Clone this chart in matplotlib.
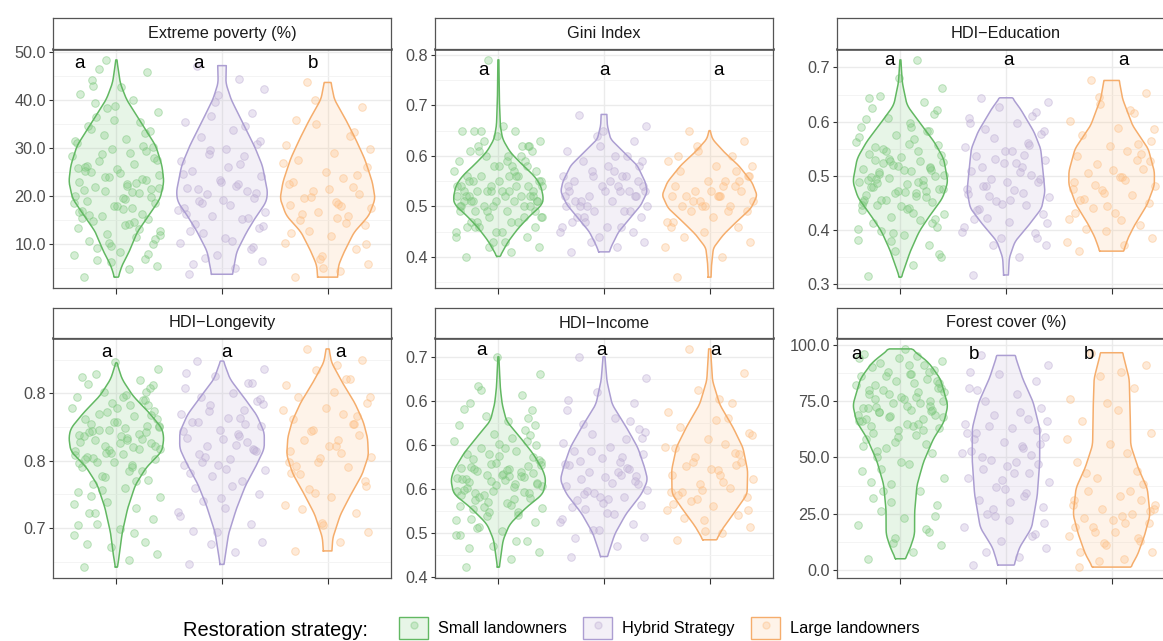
import numpy as np
import matplotlib
matplotlib.use("Agg")
import matplotlib.pyplot as plt
from matplotlib.patches import Patch
from matplotlib.lines import Line2D
from matplotlib.legend_handler import HandlerTuple
from matplotlib.colors import to_rgba

plt.rcParams['font.family'] = ['Liberation Sans', 'DejaVu Sans']

# === GROUPS & COLOURS ===
groups = ["Small landowners", "Hybrid Strategy", "Large landowners"]
fill_colors = ["#7FC97F", "#BEAED4", "#FDC086"]
line_colors = ["#62B862", "#AC9ED2", "#F5AD6C"]

# shared horizontal jitter pattern (fraction of a category slot)
jitter = [-0.31, 0.12, 0.38, -0.05, 0.27, -0.40, 0.03, -0.18, 0.35, -0.26,
          0.19, -0.09, 0.41, -0.36, 0.08, -0.22, 0.30, -0.14, 0.24, -0.33,
          0.15, -0.02, 0.37, -0.28, 0.06, -0.39, 0.21, -0.11, 0.33, -0.20,
          0.10, -0.35, 0.28, -0.07, 0.40, -0.24, 0.01, -0.30, 0.17, -0.16,
          0.36, -0.42, 0.13, -0.04, 0.25, -0.37, 0.09, -0.12, 0.32, -0.27,
          0.22, -0.19, 0.39, -0.01, 0.16, -0.34, 0.04, -0.23, 0.29, -0.10]

# === EXTREME POVERTY (%) ===
pov_small = [3.2, 4.8, 5.5, 6.3, 7.0, 7.8, 8.5, 9.2, 10.0, 10.8, 11.5, 12.2, 12.9, 13.5, 14.1,
             14.8, 15.3, 15.9, 16.4, 17.0, 17.5, 18.0, 18.6, 19.1, 19.6, 20.1, 20.6, 21.1, 21.6,
             22.0, 22.5, 23.0, 23.5, 24.0, 24.5, 25.0, 25.6, 26.1, 26.7, 27.3, 27.9, 28.5, 29.1,
             29.8, 30.5, 31.2, 32.0, 32.8, 33.7, 34.6, 35.5, 36.5, 37.6, 38.8, 40.0, 41.3, 42.8,
             44.2, 45.9, 48.4,
             21.3, 14.2, 27.5, 9.6, 33.1, 18.7, 24.8, 6.8, 30.2, 16.1, 22.7, 38.4, 12.0, 25.9,
             19.4, 43.0, 8.1, 28.8, 23.6, 15.6, 20.9, 35.9, 11.1, 26.4, 17.3, 31.6, 13.2, 24.1,
             19.9, 39.5, 22.2, 16.8, 29.4, 10.4, 21.8, 34.1, 18.1, 25.3, 14.7, 46.5]
pov_hybrid = [3.8, 5.2, 6.5, 7.8, 9.0, 10.2, 11.3, 12.4, 13.4, 14.3, 15.2, 16.0, 16.8, 17.6, 18.3,
              19.0, 19.7, 20.4, 21.1, 21.8, 22.6, 23.4, 24.3, 25.2, 26.2, 27.3, 28.4, 29.6, 30.9,
              32.3, 33.8, 35.5, 37.4, 39.6, 42.3, 47.2,
              19.3, 12.8, 26.7, 7.2, 31.5, 17.1, 22.1, 41.0, 15.6, 24.7, 10.8, 28.9, 20.8, 5.9,
              34.6, 18.6, 13.9, 23.0, 44.5, 16.4, 29.9, 21.5, 9.5, 36.8]
pov_large = [3.2, 4.5, 6.0, 7.5, 9.0, 10.4, 11.7, 12.9, 14.0, 15.0, 15.9, 16.7, 17.5, 18.2, 18.9,
             19.6, 20.4, 21.2, 22.0, 22.9, 23.9, 25.0, 26.2, 27.5, 29.0, 30.7, 32.6, 35.0, 38.5, 43.7,
             18.5, 12.3, 24.5, 7.0, 29.8, 16.3, 21.6, 35.8, 14.5, 19.9, 10.0, 26.9, 17.9, 5.2,
             33.3, 22.5, 15.4, 40.1]
# violin outlines: (value, relative half width)
pov_small_shape = [(3.2, 0.04), (5.7, 0.12), (8.5, 0.27), (12.6, 0.44), (16.0, 0.68), (19.5, 0.92),
                   (23.0, 1.0), (26.4, 0.96), (30.5, 0.83), (34.6, 0.57), (40.2, 0.21), (43.6, 0.08),
                   (48.4, 0.01)]
pov_hybrid_shape = [(3.8, 0.22), (8.5, 0.31), (12.6, 0.52), (16.0, 0.73), (18.8, 0.93), (20.9, 0.96),
                    (26.4, 0.85), (30.5, 0.68), (34.6, 0.47), (40.2, 0.19), (43.6, 0.08), (47.2, 0.09)]
pov_large_shape = [(3.2, 0.21), (5.7, 0.23), (8.5, 0.35), (12.6, 0.56), (16.0, 0.87), (19.5, 1.0),
                   (23.0, 0.94), (27.8, 0.78), (31.9, 0.59), (36.0, 0.38), (40.2, 0.14), (43.7, 0.07)]
pov_ticks = [10, 20, 30, 40, 50]
pov_ticklabels = ["10.0", "20.0", "30.0", "40.0", "50.0"]
pov_minor = [5, 15, 25, 35, 45]
pov_letters = ["a", "a", "b"]
pov_letter_x = [0.65, 1.78, 2.86]
pov_letter_y = 47.7

# === GINI INDEX ===
gini_small = [0.40, 0.41, 0.42, 0.43, 0.44, 0.45, 0.45, 0.46, 0.46, 0.47, 0.47, 0.48, 0.48, 0.49,
              0.49, 0.49, 0.50, 0.50, 0.50, 0.51, 0.51, 0.51, 0.51, 0.52, 0.52, 0.52, 0.52, 0.53,
              0.53, 0.53, 0.53, 0.54, 0.54, 0.54, 0.55, 0.55, 0.55, 0.56, 0.56, 0.56, 0.57, 0.57,
              0.58, 0.58, 0.59, 0.59, 0.60, 0.60, 0.61, 0.61, 0.62, 0.62, 0.63, 0.64, 0.65, 0.65,
              0.66, 0.65, 0.62, 0.79,
              0.52, 0.47, 0.55, 0.50, 0.58, 0.44, 0.53, 0.61, 0.49, 0.51, 0.56, 0.42, 0.54, 0.50,
              0.59, 0.46, 0.52, 0.63, 0.48, 0.53, 0.57, 0.45, 0.51, 0.55, 0.43, 0.54, 0.60, 0.49,
              0.52, 0.47, 0.56, 0.50, 0.62, 0.53, 0.48, 0.51, 0.58, 0.46, 0.54, 0.65]
gini_hybrid = [0.41, 0.42, 0.43, 0.44, 0.45, 0.46, 0.46, 0.47, 0.48, 0.48, 0.49, 0.49, 0.50, 0.50,
               0.51, 0.51, 0.52, 0.52, 0.53, 0.53, 0.53, 0.54, 0.54, 0.55, 0.55, 0.56, 0.56, 0.57,
               0.58, 0.59, 0.60, 0.61, 0.63, 0.64, 0.66, 0.68,
               0.53, 0.47, 0.56, 0.50, 0.59, 0.45, 0.54, 0.62, 0.49, 0.52, 0.57, 0.43, 0.55, 0.51,
               0.60, 0.48, 0.53, 0.65, 0.46, 0.54, 0.58, 0.50, 0.52, 0.56]
gini_large = [0.36, 0.40, 0.43, 0.45, 0.46, 0.47, 0.48, 0.49, 0.49, 0.50, 0.50, 0.51, 0.51, 0.52,
              0.52, 0.52, 0.53, 0.53, 0.54, 0.54, 0.55, 0.55, 0.56, 0.57, 0.58, 0.59, 0.60, 0.61,
              0.63, 0.65,
              0.52, 0.47, 0.55, 0.50, 0.58, 0.44, 0.53, 0.60, 0.49, 0.51, 0.56, 0.42, 0.54, 0.50,
              0.57, 0.46, 0.52, 0.62]
gini_small_shape = [(0.401, 0.03), (0.431, 0.21), (0.457, 0.42), (0.483, 0.68), (0.503, 0.92),
                    (0.516, 0.95), (0.542, 0.89), (0.561, 0.75), (0.581, 0.52), (0.607, 0.25),
                    (0.633, 0.09), (0.66, 0.04), (0.712, 0.02), (0.790, 0.01)]
gini_hybrid_shape = [(0.41, 0.11), (0.424, 0.17), (0.45, 0.31), (0.476, 0.54), (0.503, 0.78),
                     (0.529, 0.91), (0.548, 0.87), (0.581, 0.70), (0.607, 0.42), (0.633, 0.14),
                     (0.66, 0.07), (0.682, 0.06)]
gini_large_shape = [(0.36, 0.03), (0.385, 0.04), (0.418, 0.08), (0.444, 0.29), (0.47, 0.57),
                    (0.496, 0.87), (0.522, 1.0), (0.548, 0.89), (0.581, 0.61), (0.607, 0.31),
                    (0.633, 0.06), (0.65, 0.01)]
gini_ticks = [0.4, 0.5, 0.6, 0.7, 0.8]
gini_ticklabels = ["0.4", "0.5", "0.6", "0.7", "0.8"]
gini_minor = [0.35, 0.45, 0.55, 0.65, 0.75]
gini_letters = ["a", "a", "a"]
gini_letter_x = [0.86, 2.0, 3.08]
gini_letter_y = 0.769

# === HDI-EDUCATION ===
edu_small = [0.315, 0.335, 0.350, 0.362, 0.372, 0.382, 0.390, 0.398, 0.405, 0.412, 0.418, 0.424,
             0.430, 0.436, 0.441, 0.446, 0.451, 0.456, 0.460, 0.464, 0.468, 0.472, 0.476, 0.480,
             0.484, 0.488, 0.492, 0.496, 0.500, 0.504, 0.508, 0.512, 0.516, 0.520, 0.525, 0.530,
             0.535, 0.540, 0.545, 0.550, 0.556, 0.562, 0.568, 0.575, 0.582, 0.590, 0.598, 0.606,
             0.615, 0.625, 0.636, 0.648, 0.662, 0.680, 0.714, 0.455, 0.470, 0.495, 0.510, 0.528,
             0.492, 0.431, 0.538, 0.468, 0.583, 0.402, 0.511, 0.456, 0.621, 0.479, 0.527, 0.379,
             0.501, 0.447, 0.559, 0.487, 0.413, 0.545, 0.472, 0.604, 0.462, 0.519, 0.356, 0.497,
             0.438, 0.571, 0.483, 0.531, 0.421, 0.507, 0.591, 0.452, 0.514, 0.394, 0.476, 0.553,
             0.444, 0.643, 0.489, 0.523]
edu_hybrid = [0.317, 0.350, 0.372, 0.385, 0.395, 0.405, 0.414, 0.422, 0.430, 0.438, 0.446, 0.453,
              0.460, 0.467, 0.474, 0.481, 0.488, 0.495, 0.502, 0.509, 0.516, 0.523, 0.530, 0.537,
              0.545, 0.553, 0.561, 0.569, 0.578, 0.587, 0.597, 0.607, 0.617, 0.627, 0.636, 0.644,
              0.489, 0.421, 0.538, 0.463, 0.582, 0.397, 0.507, 0.448, 0.611, 0.476, 0.524, 0.372,
              0.495, 0.436, 0.557, 0.482, 0.412, 0.545, 0.468, 0.598, 0.455, 0.516, 0.386, 0.531]
edu_large = [0.361, 0.372, 0.385, 0.398, 0.410, 0.421, 0.431, 0.440, 0.449, 0.457, 0.465, 0.473,
             0.481, 0.489, 0.497, 0.505, 0.513, 0.521, 0.529, 0.537, 0.546, 0.555, 0.565, 0.576,
             0.588, 0.601, 0.616, 0.633, 0.652, 0.676,
             0.498, 0.432, 0.541, 0.469, 0.587, 0.401, 0.511, 0.455, 0.621, 0.483, 0.527, 0.378,
             0.493, 0.444, 0.559, 0.476, 0.418, 0.645]
edu_small_shape = [(0.313, 0.02), (0.361, 0.21), (0.398, 0.40), (0.428, 0.63), (0.459, 0.89),
                   (0.489, 1.0), (0.532, 0.91), (0.563, 0.71), (0.593, 0.45), (0.63, 0.14),
                   (0.672, 0.04), (0.714, 0.01)]
edu_hybrid_shape = [(0.317, 0.05), (0.349, 0.07), (0.379, 0.19), (0.41, 0.49), (0.44, 0.75),
                    (0.471, 0.82), (0.508, 0.78), (0.55, 0.73), (0.581, 0.59), (0.624, 0.30),
                    (0.644, 0.13)]
edu_large_shape = [(0.361, 0.25), (0.386, 0.35), (0.41, 0.49), (0.447, 0.75), (0.483, 0.90),
                   (0.508, 0.90), (0.55, 0.77), (0.593, 0.44), (0.642, 0.23), (0.676, 0.16)]
edu_ticks = [0.3, 0.4, 0.5, 0.6, 0.7]
edu_ticklabels = ["0.3", "0.4", "0.5", "0.6", "0.7"]
edu_minor = [0.35, 0.45, 0.55, 0.65]
edu_letters = ["a", "a", "a"]
edu_letter_x = [0.9, 2.02, 3.11]
edu_letter_y = 0.712

# === HDI-LONGEVITY ===
lon_small = [0.671, 0.676, 0.681, 0.686, 0.690, 0.695, 0.699, 0.703, 0.707, 0.711, 0.715, 0.719,
             0.723, 0.727, 0.730, 0.733, 0.736, 0.739, 0.742, 0.745, 0.747, 0.749, 0.751, 0.753,
             0.755, 0.757, 0.759, 0.761, 0.763, 0.765, 0.767, 0.769, 0.771, 0.773, 0.775, 0.777,
             0.779, 0.781, 0.783, 0.785, 0.787, 0.789, 0.791, 0.793, 0.795, 0.797, 0.799, 0.801,
             0.804, 0.807, 0.810, 0.814, 0.818, 0.823, 0.760, 0.764, 0.768, 0.772, 0.776, 0.756,
             0.768, 0.742, 0.781, 0.756, 0.795, 0.718, 0.763, 0.749, 0.806, 0.771, 0.735, 0.786,
             0.759, 0.702, 0.774, 0.752, 0.791, 0.728, 0.766, 0.812, 0.745, 0.779, 0.761, 0.688,
             0.797, 0.754, 0.770, 0.738, 0.784, 0.711, 0.765, 0.748, 0.801, 0.758, 0.776, 0.724,
             0.789, 0.751, 0.696, 0.773]
lon_hybrid = [0.673, 0.682, 0.690, 0.697, 0.703, 0.709, 0.715, 0.720, 0.725, 0.730, 0.735, 0.739,
              0.743, 0.747, 0.751, 0.755, 0.758, 0.761, 0.764, 0.767, 0.770, 0.773, 0.776, 0.779,
              0.782, 0.785, 0.788, 0.791, 0.794, 0.797, 0.800, 0.804, 0.808, 0.813, 0.818, 0.824,
              0.766, 0.741, 0.782, 0.753, 0.796, 0.712, 0.762, 0.747, 0.808, 0.772, 0.731, 0.787,
              0.757, 0.698, 0.777, 0.749, 0.792, 0.722, 0.768, 0.815, 0.744, 0.779, 0.759, 0.688]
lon_large = [0.683, 0.690, 0.697, 0.704, 0.711, 0.717, 0.723, 0.729, 0.735, 0.740, 0.745, 0.749,
             0.753, 0.757, 0.761, 0.765, 0.769, 0.773, 0.777, 0.781, 0.785, 0.789, 0.793, 0.797,
             0.801, 0.806, 0.811, 0.817, 0.825, 0.833,
             0.765, 0.741, 0.783, 0.752, 0.797, 0.714, 0.761, 0.746, 0.811, 0.772, 0.731, 0.788,
             0.756, 0.702, 0.777, 0.749, 0.821, 0.726]
lon_small_shape = [(0.671, 0.02), (0.679, 0.06), (0.696, 0.12), (0.715, 0.24), (0.732, 0.40),
                   (0.745, 0.63), (0.757, 0.96), (0.767, 1.0), (0.774, 0.96), (0.786, 0.68),
                   (0.798, 0.35), (0.8105, 0.12), (0.8227, 0.01)]
lon_hybrid_shape = [(0.673, 0.04), (0.696, 0.14), (0.715, 0.31), (0.732, 0.50), (0.747, 0.73),
                    (0.759, 0.89), (0.771, 0.89), (0.784, 0.73), (0.798, 0.44), (0.8105, 0.17),
                    (0.824, 0.03)]
lon_large_shape = [(0.683, 0.09), (0.693, 0.11), (0.71, 0.27), (0.725, 0.49), (0.74, 0.73),
                   (0.754, 0.86), (0.767, 0.84), (0.779, 0.75), (0.793, 0.57), (0.808, 0.31),
                   (0.823, 0.08), (0.833, 0.03)]
lon_ticks = [0.70, 0.75, 0.80]
lon_ticklabels = ["0.7", "0.8", "0.8"]
lon_minor = [0.675, 0.725, 0.775, 0.825]
lon_letters = ["a", "a", "a"]
lon_letter_x = [0.91, 2.04, 3.12]
lon_letter_y = 0.830

# === HDI-INCOME ===
inc_small = [0.461, 0.470, 0.478, 0.485, 0.491, 0.497, 0.502, 0.507, 0.512, 0.516, 0.520, 0.524,
             0.528, 0.531, 0.534, 0.537, 0.540, 0.543, 0.546, 0.549, 0.552, 0.554, 0.556, 0.558,
             0.560, 0.562, 0.564, 0.566, 0.568, 0.570, 0.572, 0.574, 0.576, 0.578, 0.581, 0.584,
             0.587, 0.590, 0.593, 0.596, 0.600, 0.604, 0.608, 0.612, 0.617, 0.622, 0.627, 0.633,
             0.640, 0.648, 0.657, 0.667, 0.680, 0.700, 0.555, 0.561, 0.567, 0.573, 0.545, 0.535,
             0.561, 0.532, 0.583, 0.548, 0.604, 0.515, 0.566, 0.541, 0.622, 0.575, 0.524, 0.589,
             0.553, 0.497, 0.571, 0.545, 0.611, 0.529, 0.563, 0.641, 0.538, 0.579, 0.557, 0.483,
             0.596, 0.547, 0.569, 0.519, 0.586, 0.506, 0.564, 0.543, 0.631, 0.559, 0.577, 0.527,
             0.601, 0.551, 0.491, 0.662]
inc_hybrid = [0.473, 0.485, 0.495, 0.503, 0.510, 0.516, 0.522, 0.527, 0.532, 0.537, 0.541, 0.545,
              0.549, 0.553, 0.557, 0.561, 0.565, 0.569, 0.573, 0.577, 0.581, 0.585, 0.589, 0.593,
              0.597, 0.602, 0.607, 0.612, 0.618, 0.624, 0.631, 0.639, 0.648, 0.660, 0.676, 0.700,
              0.563, 0.529, 0.586, 0.547, 0.608, 0.512, 0.569, 0.541, 0.627, 0.578, 0.521, 0.593,
              0.556, 0.494, 0.574, 0.544, 0.615, 0.534, 0.566, 0.651, 0.538, 0.582, 0.559, 0.503]
inc_large = [0.492, 0.500, 0.507, 0.514, 0.520, 0.526, 0.531, 0.536, 0.541, 0.546, 0.551, 0.556,
             0.561, 0.566, 0.571, 0.576, 0.581, 0.586, 0.591, 0.596, 0.601, 0.607, 0.613, 0.620,
             0.628, 0.637, 0.648, 0.662, 0.682, 0.709,
             0.566, 0.533, 0.589, 0.549, 0.611, 0.517, 0.572, 0.543, 0.631, 0.581, 0.526, 0.597,
             0.558, 0.502, 0.577, 0.546, 0.652, 0.538]
inc_small_shape = [(0.461, 0.02), (0.473, 0.05), (0.492, 0.10), (0.51, 0.24), (0.529, 0.59),
                   (0.544, 0.94), (0.56, 1.0), (0.571, 0.94), (0.59, 0.73), (0.609, 0.45),
                   (0.627, 0.17), (0.646, 0.08), (0.665, 0.04), (0.70, 0.01)]
inc_hybrid_shape = [(0.473, 0.07), (0.499, 0.23), (0.522, 0.47), (0.544, 0.79), (0.56, 0.92),
                    (0.575, 0.85), (0.597, 0.71), (0.62, 0.47), (0.646, 0.17), (0.673, 0.06),
                    (0.70, 0.02)]
inc_large_shape = [(0.492, 0.14), (0.507, 0.30), (0.526, 0.56), (0.544, 0.79), (0.571, 0.80),
                   (0.597, 0.70), (0.62, 0.49), (0.646, 0.21), (0.673, 0.06), (0.709, 0.02)]
inc_ticks = [0.45, 0.50, 0.55, 0.60, 0.65, 0.70]
inc_ticklabels = ["0.4", "0.5", "0.6", "0.6", "0.6", "0.7"]
inc_minor = [0.475, 0.525, 0.575, 0.625, 0.675]
inc_letters = ["a", "a", "a"]
inc_letter_x = [0.84, 1.98, 3.06]
inc_letter_y = 0.7076

# === FOREST COVER (%) ===
for_small = [5, 8, 11, 14, 17, 20, 23, 26, 29, 32, 35, 38, 41, 44, 47, 50, 52, 54, 56, 58, 60, 62,
             63, 64, 65, 66, 67, 68, 69, 70, 71, 72, 73, 74, 75, 76, 77, 78, 79, 80, 81, 82, 83, 84,
             85, 86, 87, 88, 89, 90, 91, 92, 93, 94, 95, 96, 98, 72.5, 70.5, 68.5,
             72, 64, 81, 57, 88, 69, 76, 45, 84, 61, 74, 30, 79, 66, 91, 53, 71, 86, 18, 67,
             77, 59, 83, 39, 73, 94, 62, 78, 24, 70, 87, 55, 75, 12, 68, 82, 48, 80, 65, 35]
for_hybrid = [2.2, 6, 10, 13, 16, 19, 22, 25, 28, 31, 34, 37, 39, 41, 43, 45, 47, 49, 51, 53, 55,
              57, 59, 61, 63, 65, 67, 69, 72, 75, 78, 81, 84, 87, 91, 95.3,
              46, 58, 33, 64, 21, 52, 70, 40, 15, 61, 48, 27, 56, 80, 43, 8, 66, 36, 54, 88, 30,
              50, 62, 24]
for_large = [1.3, 5, 8, 11, 13, 15, 17, 19, 21, 23, 25, 27, 29, 31, 33, 35, 38, 41, 44, 48, 52, 56,
             61, 66, 71, 76, 81, 86, 91, 96.5,
             24, 19, 31, 12, 27, 43, 22, 8, 35, 17, 26, 58, 21, 74, 14, 29, 88, 4]
for_small_shape = [(5.0, 0.10), (9.9, 0.21), (15.8, 0.30), (26.1, 0.30), (37.8, 0.35), (48.2, 0.49),
                   (58.5, 0.70), (65.8, 0.92), (73.2, 1.0), (85.0, 0.84), (92.3, 0.59), (98.2, 0.23)]
for_hybrid_shape = [(2.2, 0.17), (9.9, 0.28), (18.7, 0.54), (33.4, 0.66), (48.2, 0.71), (62.9, 0.71),
                    (74.7, 0.57), (85.0, 0.35), (95.3, 0.19)]
for_large_shape = [(1.3, 0.40), (6.9, 0.55), (15.8, 0.70), (24.6, 0.81), (36.4, 0.75), (45.2, 0.56),
                   (55.5, 0.40), (70.3, 0.39), (85.0, 0.37), (96.5, 0.23)]
for_ticks = [0, 25, 50, 75, 100]
for_ticklabels = ["0.0", "25.0", "50.0", "75.0", "100.0"]
for_minor = [12.5, 37.5, 62.5, 87.5]
for_letters = ["a", "b", "b"]
for_letter_x = [0.58, 1.70, 2.79]
for_letter_y = 95.6

panels = [
    ("Extreme poverty (%)", [pov_small, pov_hybrid, pov_large],
     [pov_small_shape, pov_hybrid_shape, pov_large_shape],
     pov_ticks, pov_ticklabels, pov_minor, pov_letters, pov_letter_x, pov_letter_y),
    ("Gini Index", [gini_small, gini_hybrid, gini_large],
     [gini_small_shape, gini_hybrid_shape, gini_large_shape],
     gini_ticks, gini_ticklabels, gini_minor, gini_letters, gini_letter_x, gini_letter_y),
    ("HDI\u2212Education", [edu_small, edu_hybrid, edu_large],
     [edu_small_shape, edu_hybrid_shape, edu_large_shape],
     edu_ticks, edu_ticklabels, edu_minor, edu_letters, edu_letter_x, edu_letter_y),
    ("HDI\u2212Longevity", [lon_small, lon_hybrid, lon_large],
     [lon_small_shape, lon_hybrid_shape, lon_large_shape],
     lon_ticks, lon_ticklabels, lon_minor, lon_letters, lon_letter_x, lon_letter_y),
    ("HDI\u2212Income", [inc_small, inc_hybrid, inc_large],
     [inc_small_shape, inc_hybrid_shape, inc_large_shape],
     inc_ticks, inc_ticklabels, inc_minor, inc_letters, inc_letter_x, inc_letter_y),
    ("Forest cover (%)", [for_small, for_hybrid, for_large],
     [for_small_shape, for_hybrid_shape, for_large_shape],
     for_ticks, for_ticklabels, for_minor, for_letters, for_letter_x, for_letter_y),
]

# === LAYOUT (pixels) ===
W, H = 1163, 641
col_left = [53, 435, 837]
panel_w = 338
strip_top = [18, 308]
plot_top = [49, 338]
plot_bottom = [288, 578]
max_half = 0.45
text_size = 11.7


def draw_violin(ax, pos, shape, fill, edge):
    ys = np.array([p[0] for p in shape])
    ws = np.array([p[1] for p in shape]) * max_half
    yy = np.linspace(ys.min(), ys.max(), 240)
    ww = np.interp(yy, ys, ws)
    k = 11
    ww_s = np.convolve(np.pad(ww, k // 2, mode='edge'), np.ones(k) / k, mode='valid')
    ww_s[0], ww_s[-1] = ww[0], ww[-1]
    xs = np.concatenate([pos - ww_s, (pos + ww_s)[::-1]])
    ypoly = np.concatenate([yy, yy[::-1]])
    ax.fill(xs, ypoly, facecolor=to_rgba(fill, 0.18), edgecolor='none', zorder=3)
    ax.plot(np.append(xs, xs[0]), np.append(ypoly, ypoly[0]), color=edge, lw=1.1, zorder=4)


def draw_points(ax, pos, values, color):
    offs = np.resize(jitter, len(values))
    ax.scatter(pos + offs, values, s=30, facecolor=to_rgba(color, 0.32),
               edgecolor=to_rgba(color, 0.5), linewidths=0.7, zorder=2)


fig = plt.figure(figsize=(W / 100, H / 100), dpi=100)

for i, (title, values, shapes, ticks, ticklabels, minor, letters, lx, ly) in enumerate(panels):
    r, c = divmod(i, 3)
    left = col_left[c]
    ax = fig.add_axes([left / W, 1 - plot_bottom[r] / H, panel_w / W,
                       (plot_bottom[r] - plot_top[r]) / H])
    strip = fig.add_axes([left / W, 1 - plot_top[r] / H, panel_w / W,
                          (plot_top[r] - strip_top[r]) / H])

    for g in range(3):
        draw_points(ax, g + 1, values[g], fill_colors[g])
        draw_violin(ax, g + 1, shapes[g], fill_colors[g], line_colors[g])
        ax.text(lx[g], ly, letters[g], fontsize=13.5, ha='center', va='center',
                color='black', zorder=5)

    all_vals = np.concatenate([np.array(v, dtype=float) for v in values] +
                              [np.array([p[0] for p in s]) for s in shapes])
    lo, hi = all_vals.min(), all_vals.max()
    pad = 0.05 * (hi - lo)
    ax.set_ylim(lo - pad, hi + pad)
    ax.set_xlim(0.4, 3.6)

    ax.set_xticks([1, 2, 3])
    ax.set_xticklabels([])
    ax.set_yticks(ticks)
    ax.set_yticklabels(ticklabels)
    ax.set_yticks(minor, minor=True)
    ax.tick_params(axis='y', which='major', length=3, width=0.8, color='#333333',
                   labelsize=text_size, labelcolor='#4d4d4d', pad=2)
    ax.tick_params(axis='y', which='minor', length=0)
    ax.tick_params(axis='x', which='major', length=4, width=0.8, color='#333333')
    ax.grid(True, which='major', color='#ebebeb', lw=1.0, zorder=0)
    ax.grid(True, which='minor', axis='y', color='#f3f3f3', lw=0.6, zorder=0)
    ax.set_axisbelow(True)
    for name, sp in ax.spines.items():
        sp.set_color('#555555')
        sp.set_linewidth(0.9)
    ax.spines['top'].set_color('#444444')
    ax.spines['top'].set_linewidth(1.8)

    strip.set_xticks([])
    strip.set_yticks([])
    strip.set_facecolor('white')
    for sp in strip.spines.values():
        sp.set_color('#555555')
        sp.set_linewidth(0.9)
    strip.text(0.5, 0.5, title, transform=strip.transAxes, ha='center', va='center',
               fontsize=text_size, color='#1a1a1a')

# === LEGEND ===
handles = []
for g in range(3):
    box = Patch(facecolor=to_rgba(fill_colors[g], 0.18), edgecolor=line_colors[g], linewidth=1.0)
    dot = Line2D([], [], marker='o', ls='none', markersize=5,
                 markerfacecolor=to_rgba(fill_colors[g], 0.3),
                 markeredgecolor=to_rgba(fill_colors[g], 0.4))
    handles.append((box, dot))

fig.text(368 / W, 1 - 630 / H, "Restoration strategy:", ha='right', va='center',
         fontsize=14.4, color='black')
fig.legend(handles, groups, ncol=3, loc='center left',
           bbox_to_anchor=(399 / W, 1 - 628 / H), frameon=False, fontsize=text_size,
           handlelength=1.8, handleheight=1.8, handletextpad=0.6, columnspacing=1.0,
           borderpad=0, borderaxespad=0,
           handler_map={tuple: HandlerTuple(ndivide=1)})

fig.savefig("out.png", dpi=100)
